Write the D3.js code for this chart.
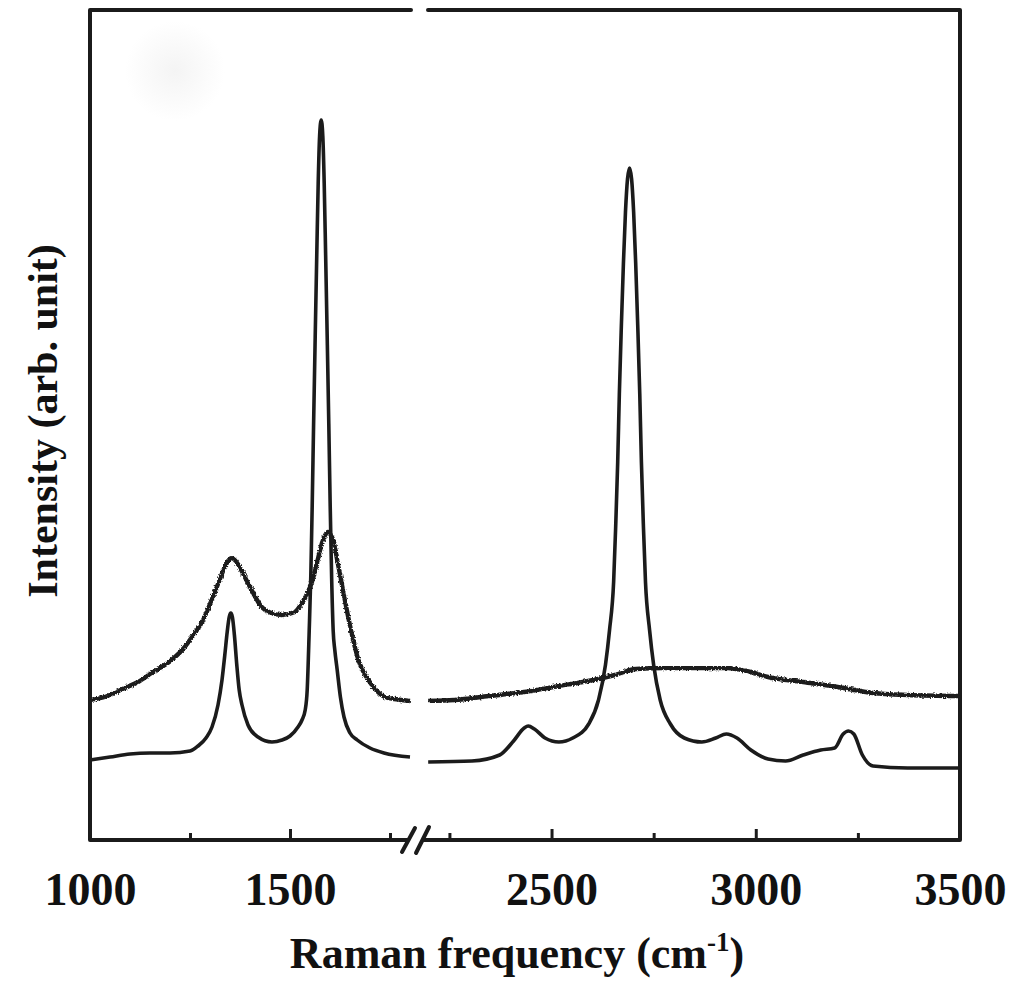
<!DOCTYPE html>
<html>
<head>
<meta charset="utf-8">
<script src="https://cdn.jsdelivr.net/npm/d3@7"></script>
<style>
  html, body { margin: 0; padding: 0; background: #fff; }
  svg { display: block; }
  text { font-family: "Liberation Serif", "Times New Roman", serif; font-weight: bold; fill: #111; }
</style>
</head>
<body>
<div id="chart"></div>
<script>
// Raman spectra, broken x axis (1000-1800 | 2200-3500), intensity in arb. units
// [frequency cm-1, intensity]
const pristineLeft = [
  [1000, 80], [1050, 83], [1100, 86], [1150, 87], [1200, 87], [1250, 89], [1270, 94],
  [1290, 102], [1305, 113], [1320, 135], [1330, 160], [1337, 185], [1343, 208], [1348, 223],
  [1352, 227], [1356, 223], [1361, 205], [1367, 175], [1373, 150], [1380, 135], [1395, 115],
  [1420, 103], [1455, 98], [1480, 100], [1500, 104], [1520, 113], [1530, 120], [1538, 130],
  [1543, 150], [1548, 209], [1552, 264], [1555.5, 334], [1559, 416], [1563, 503], [1567, 587],
  [1570.5, 657], [1574, 704], [1578, 720], [1582, 704], [1585.5, 657], [1589, 587], [1593, 503],
  [1597, 416], [1600.5, 334], [1604, 264], [1608, 209], [1612, 190], [1618, 170], [1626, 143],
  [1635, 123], [1650, 107], [1668, 100], [1700, 92], [1735, 87], [1800, 83]
]
const pristineRight = [
  [2198, 78], [2305, 79], [2373, 85], [2407, 99], [2433, 112], [2443, 114], [2458, 111],
  [2484, 102], [2518, 98], [2552, 102], [2591, 116], [2615, 140], [2632, 175], [2642, 210],
  [2652, 258], [2657, 313], [2662, 378], [2666, 446], [2671, 515], [2676, 577], [2681, 628],
  [2686, 661], [2691, 672], [2696, 661], [2701, 628], [2706, 577], [2711, 515], [2716, 446],
  [2720, 378], [2725, 313], [2730, 258], [2740, 210], [2750, 175], [2766, 140], [2791, 116],
  [2825, 102], [2868, 98], [2902, 102], [2928, 106], [2954, 102], [2988, 90], [3030, 81],
  [3073, 79], [3116, 85], [3159, 90], [3193, 92], [3214, 106], [3227, 109], [3240, 106],
  [3261, 85], [3287, 74], [3372, 72], [3500, 72]
]
const defectLeft = [
  [1000, 140], [1037, 143], [1087, 152], [1120, 158], [1154, 167], [1204, 180], [1237, 193],
  [1262, 207], [1279, 217], [1304, 240], [1321, 257], [1337, 273], [1347, 280], [1354, 282],
  [1362, 280], [1371, 275], [1387, 263], [1404, 250], [1429, 233], [1454, 227], [1479, 225],
  [1512, 228], [1530, 237], [1545, 248], [1554, 257], [1563, 270], [1571, 283], [1580, 297],
  [1588, 305], [1595, 308], [1602, 305], [1608, 300], [1618, 280], [1629, 257], [1642, 230],
  [1654, 207], [1671, 180], [1685, 167], [1696, 160], [1715, 150], [1737, 143], [1760, 141],
  [1779, 140], [1800, 139]
]
const defectRight = [
  [2198, 139], [2262, 140], [2347, 144], [2433, 148], [2518, 154], [2603, 160], [2655, 165],
  [2706, 171], [2774, 172], [2860, 172], [2928, 172], [2988, 168], [3030, 163], [3116, 158],
  [3201, 153], [3287, 147], [3372, 145], [3500, 144]
]

const majorTicksLeft = [1000, 1500]
const minorTicksLeft = [1250, 1750]
const majorTicksRight = [2500, 3000, 3500]
const minorTicksRight = [2250, 2750, 3250]

const W = 1021, H = 984
const plotTop = 10, plotBottom = 840, plotLeft = 90, plotRight = 960
const leftEnd = 410, rightStart = 429

const svg = d3.select('#chart').append('svg')
  .attr('width', W).attr('height', H)

const defs = svg.append('defs')
const grad = defs.append('radialGradient').attr('id', 'blob')
grad.append('stop').attr('offset', '0%').attr('stop-color', '#f4f4f4')
grad.append('stop').attr('offset', '100%').attr('stop-color', '#ffffff')
// slight roughness for the noisy spectrum
const rough = defs.append('filter').attr('id', 'rough')
  .attr('x', '-5%').attr('y', '-5%').attr('width', '110%').attr('height', '110%')
rough.append('feTurbulence').attr('type', 'fractalNoise')
  .attr('baseFrequency', 0.6).attr('numOctaves', 2).attr('seed', 3).attr('result', 'n')
rough.append('feDisplacementMap').attr('in', 'SourceGraphic').attr('in2', 'n')
  .attr('scale', 3.5).attr('xChannelSelector', 'R').attr('yChannelSelector', 'G')

svg.append('circle').attr('cx', 175).attr('cy', 71).attr('r', 50).attr('fill', 'url(#blob)')

const xL = d3.scaleLinear().domain([1000, 1800]).range([plotLeft, leftEnd])
const xR = d3.scaleLinear().domain([2200, 3500]).range([rightStart, plotRight])
const y = d3.scaleLinear().domain([0, 830]).range([plotBottom, plotTop])

const lineL = d3.line().x(d => xL(d[0])).y(d => y(d[1])).curve(d3.curveMonotoneX)
const lineR = d3.line().x(d => xR(d[0])).y(d => y(d[1])).curve(d3.curveMonotoneX)

const ink = '#1b1b1b'

svg.append('path').datum(pristineLeft).attr('d', lineL)
  .attr('fill', 'none').attr('stroke', ink).attr('stroke-width', 3.6).attr('stroke-linejoin', 'round')
svg.append('path').datum(pristineRight).attr('d', lineR)
  .attr('fill', 'none').attr('stroke', ink).attr('stroke-width', 3.6).attr('stroke-linejoin', 'round')
svg.append('path').datum(defectLeft).attr('d', lineL).attr('filter', 'url(#rough)')
  .attr('fill', 'none').attr('stroke', ink).attr('stroke-width', 4.4).attr('stroke-linejoin', 'round')
svg.append('path').datum(defectRight).attr('d', lineR).attr('filter', 'url(#rough)')
  .attr('fill', 'none').attr('stroke', ink).attr('stroke-width', 4.4).attr('stroke-linejoin', 'round')

// ticks (inward) + labels
function tickAxis(scale, vals, size, labels) {
  const ax = d3.axisBottom(scale).tickValues(vals).tickSize(-size).tickPadding(32)
    .tickFormat(labels ? d3.format('d') : '')
  const g = svg.append('g').attr('transform', `translate(0,${plotBottom})`).call(ax)
  g.select('.domain').remove()
  g.selectAll('.tick line').attr('stroke', ink).attr('stroke-width', 3)
  g.selectAll('.tick text').attr('font-size', 46).attr('dy', '0.72em')
    .style('font-family', '"Liberation Serif", serif').style('font-weight', 'bold').attr('fill', '#111')
  return g
}
tickAxis(xL, majorTicksLeft, 11, true)
tickAxis(xL, minorTicksLeft, 7, false)
tickAxis(xR, majorTicksRight, 11, true)
tickAxis(xR, minorTicksRight, 7, false)

// frame with break
const frame = svg.append('g').attr('fill', 'none').attr('stroke', ink)
  .attr('stroke-width', 4).attr('stroke-linecap', 'round').attr('stroke-linejoin', 'round')
frame.append('path').attr('d', `M411,${plotTop}H${plotLeft}V${plotBottom}H408`)
frame.append('path').attr('d', `M428,${plotTop}H${plotRight}V${plotBottom}H424`)
frame.append('line').attr('x1', 402).attr('y1', 852).attr('x2', 415).attr('y2', 828)
frame.append('line').attr('x1', 416).attr('y1', 853).attr('x2', 429).attr('y2', 827)

// axis titles
const xt = svg.append('text').attr('x', 517).attr('y', 968)
  .attr('text-anchor', 'middle').attr('font-size', 44)
xt.append('tspan').text('Raman frequency (cm')
xt.append('tspan').attr('font-size', 27).attr('dy', -17).text('-1')
xt.append('tspan').attr('dy', 17).text(')')

svg.append('text').attr('transform', 'translate(57,421) rotate(-90)')
  .attr('text-anchor', 'middle').attr('font-size', 42)
  .text('Intensity (arb. unit)')
</script>
</body>
</html>
